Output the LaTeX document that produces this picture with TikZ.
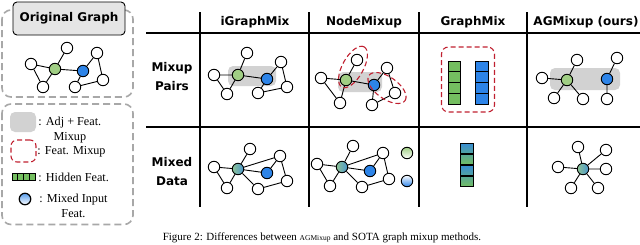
\documentclass[tikz,border=0pt]{standalone}
\usepackage{fontspec}
\setmainfont{Liberation Serif}
\newfontfamily\comicfont{DejaVu Sans}
\usetikzlibrary{positioning, shapes.geometric, calc}
\definecolor{nodegreen}{RGB}{160,206,132}
\definecolor{nodeblue}{RGB}{45,132,232}
\definecolor{cellgreen}{RGB}{116,190,96}
\definecolor{keyred}{RGB}{192,32,48}
\definecolor{pairgray}{RGB}{210,210,210}
\definecolor{boxgray}{RGB}{168,168,168}

\tikzset{
  headfont/.style={font=\comicfont\bfseries\fontsize{12}{19}\selectfont},
  keyfont/.style={font=\fontsize{12.2}{15.5}\selectfont},
}

\begin{document}
\begin{tikzpicture}[x=1pt, y=-1pt, line width=0.9pt,
    vtx/.style={circle, draw, fill=white, minimum size=11.5pt, inner sep=0pt},
    gvtx/.style={vtx, fill=nodegreen},
    bvtx/.style={vtx, fill=nodeblue},
    mvtx/.style={vtx, left color=nodegreen!85!nodeblue, right color=nodeblue!75!nodegreen},
    pairbg/.style={rectangle, rounded corners=5pt, fill=pairgray, draw=none, inner sep=0pt},
    featbox/.style={draw=keyred, dashed, dash pattern=on 5pt off 3pt, line width=1.1pt, inner sep=0pt},
    dashbox/.style={draw=boxgray, dash pattern=on 7pt off 4pt, line width=1.6pt, rounded corners=9pt},
    gcell/.style={rectangle, draw, fill=cellgreen, minimum width=12.5pt, minimum height=10.8pt, inner sep=0pt},
    bcell/.style={gcell, fill=nodeblue},
    mcellA/.style={gcell, top color=nodeblue!85!cellgreen, bottom color=nodeblue!45!cellgreen},
    mcellB/.style={gcell, top color=nodeblue!40!cellgreen, bottom color=cellgreen},
    tline/.style={line width=1.3pt}]
  \useasboundingbox (0,0) rectangle (640,244);

  % Original graph panel
  \draw[dashbox] (2,10) rectangle (133,97);
  \node[draw, fill=gray!20, rounded corners=4pt, minimum width=112pt, minimum height=33pt, headfont] (title) at (69,18.5) {Original Graph};
  \node[vtx] (og-l) at (31,64) {}; \node[gvtx] (og-g) at (55,69) {}; \node[vtx] (og-t) at (67,48) {};
  \node[vtx] (og-bl) at (43,87) {}; \node[bvtx] (og-b) at (83,71) {}; \node[vtx] (og-tr) at (97,53) {};
  \node[vtx] (og-r) at (103,80) {}; \node[vtx] (og-bb) at (75,87) {};
  \draw (og-l)--(og-g) (og-l)--(og-bl) (og-bl)--(og-g) (og-g)--(og-t) (og-g)--(og-b)
        (og-b)--(og-tr) (og-tr)--(og-r) (og-r)--(og-bb) (og-bb)--(og-b);

  % Legend panel
  \draw[dashbox] (2,104) rectangle (133,224.5);
  \node[pairbg, minimum width=26pt, minimum height=20pt] (lg-adj) at (23,122) {};
  \node[keyfont, align=center, anchor=west, inner sep=0pt] (lg-adj-t) at (38,130) {: Adj + Feat.\\Mixup};
  \node[featbox, rectangle, rounded corners=6pt, minimum width=25pt, minimum height=22pt] (lg-feat) at (23.5,151) {};
  \node[keyfont, anchor=west, inner sep=0pt] (lg-feat-t) at (37,152) {: Feat. Mixup};
  \foreach \i in {0,...,3}
    \node[gcell, minimum width=5.8pt, minimum height=6.5pt, line width=0.7pt] (lg-h\i) at (14.9+\i*5.8,177) {};
  \node[keyfont, anchor=west, inner sep=0pt] (lg-hid-t) at (38,177) {: Hidden Feat.};
  \node[vtx, line width=1.2pt, top color=nodeblue!80, bottom color=white] (lg-mix) at (25,199) {};
  \node[keyfont, align=center, anchor=west, inner sep=0pt] (lg-mix-t) at (39,206) {: Mixed Input\\Feat.};

  % Table frame
  \draw[tline] (146,33) -- (640,33);
  \draw[tline] (146,127) -- (640,127);
  \foreach \x in {200,309,419,527}
    \draw[tline] (\x,12) -- (\x,207);
  \node[headfont] (h-ig) at (255,22) {iGraphMix};
  \node[headfont] (h-nm) at (364,22) {NodeMixup};
  \node[headfont] (h-gm) at (473,22) {GraphMix};
  \node[headfont] (h-ag) at (586,22) {AGMixup (ours)};
  \node[headfont, align=center] (r-pair) at (172,77) {Mixup\\Pairs};
  \node[headfont, align=center] (r-data) at (172,172) {Mixed\\Data};

  % iGraphMix
  \node[pairbg, minimum width=48pt, minimum height=20pt] (ip-bg) at (252,76) {};
  \node[vtx] (ip-l) at (214,75) {}; \node[gvtx] (ip-g) at (238,75) {}; \node[vtx] (ip-t) at (247,53) {};
  \node[vtx] (ip-bl) at (227,94) {}; \node[bvtx] (ip-b) at (267,79) {}; \node[vtx] (ip-tr) at (281,62) {};
  \node[vtx] (ip-r) at (287,87) {}; \node[vtx] (ip-bb) at (258,93) {};
  \draw (ip-l)--(ip-g) (ip-l)--(ip-bl) (ip-bl)--(ip-g) (ip-g)--(ip-t) (ip-g)--(ip-b)
        (ip-b)--(ip-tr) (ip-tr)--(ip-r) (ip-r)--(ip-bb) (ip-bb)--(ip-b);
  \node[vtx] (id-l) at (214,167) {}; \node[mvtx] (id-m) at (238,169) {}; \node[vtx] (id-t) at (250,149) {};
  \node[vtx] (id-bl) at (227,188) {}; \node[bvtx] (id-b) at (267,173) {}; \node[vtx] (id-tr) at (280,156) {};
  \node[vtx] (id-r) at (287,181) {}; \node[vtx] (id-bm) at (258,189) {};
  \draw (id-l)--(id-m) (id-l)--(id-bl) (id-bl)--(id-m) (id-m)--(id-t) (id-m)--(id-tr) (id-m)--(id-b)
        (id-m)--(id-bm) (id-b)--(id-tr) (id-tr)--(id-r) (id-r)--(id-bm);

  % NodeMixup
  \node[pairbg, minimum width=44pt, minimum height=20pt] (np-bg) at (360,82) {};
  \node[vtx] (np-l) at (321,78) {}; \node[gvtx] (np-g) at (346,80) {}; \node[vtx] (np-t) at (357,60) {};
  \node[vtx] (np-bl) at (340,103) {}; \node[bvtx] (np-b) at (374,85) {}; \node[vtx] (np-tr) at (387,68) {};
  \node[vtx] (np-r) at (395,93) {}; \node[vtx] (np-bb) at (372,105) {};
  \draw (np-l)--(np-g) (np-l)--(np-bl) (np-bl)--(np-g) (np-g)--(np-t) (np-g)--(np-b)
        (np-b)--(np-tr) (np-tr)--(np-r) (np-r)--(np-bb) (np-bb)--(np-b);
  \node[featbox, ellipse, minimum width=46pt, minimum height=21pt, rotate=61] (np-e1) at (353,67) {};
  \node[featbox, ellipse, minimum width=44pt, minimum height=22pt, rotate=-35] (np-e2) at (387,88) {};
  \node[vtx] (nd-l) at (317,164) {}; \node[mvtx] (nd-m) at (342,167) {}; \node[vtx] (nd-t) at (353,146) {};
  \node[vtx] (nd-bl) at (330,186) {}; \node[bvtx] (nd-b) at (370,171) {}; \node[vtx] (nd-tr) at (383,153) {};
  \node[vtx] (nd-r) at (389,179) {}; \node[vtx] (nd-bm) at (362,187) {};
  \draw (nd-l)--(nd-m) (nd-l)--(nd-bl) (nd-bl)--(nd-m) (nd-m)--(nd-t) (nd-m)--(nd-tr) (nd-m)--(nd-b)
        (nd-m)--(nd-bm) (nd-b)--(nd-tr) (nd-tr)--(nd-r) (nd-r)--(nd-bm);
  \node[vtx, top color=nodegreen, bottom color=white] (nd-gx) at (407,153) {};
  \node[vtx, top color=white, bottom color=nodeblue] (nd-bx) at (407,181) {};

  % GraphMix
  \node[featbox, rectangle, rounded corners=7pt, minimum width=53pt, minimum height=65pt] (gp-box) at (468,79.5) {};
  \foreach \i in {0,...,3} {
    \node[gcell] (gp-g\i) at (454.5,66.5+\i*10.8) {};
    \node[bcell] (gp-b\i) at (482,66.5+\i*10.8) {};
  }
  \foreach \i/\c in {0/mcellA,1/mcellB,2/mcellA,3/mcellB}
    \node[\c] (gd-\i) at (467,148.5+\i*11) {};

  % AGMixup
  \node[pairbg, minimum width=70pt, minimum height=22pt] (ap-bg) at (585,79) {};
  \node[vtx] (ap-l) at (542,78) {}; \node[gvtx] (ap-g) at (567,80) {}; \node[vtx] (ap-tr) at (577,60) {};
  \node[vtx] (ap-bl) at (554,98) {}; \node[vtx] (ap-br) at (583,99) {};
  \node[bvtx] (ap-b) at (607,79) {}; \node[vtx] (ap-t) at (617,58) {}; \node[vtx] (ap-bb) at (607,99) {};
  \draw (ap-l)--(ap-g) (ap-g)--(ap-tr) (ap-g)--(ap-bl) (ap-g)--(ap-br) (ap-b)--(ap-t) (ap-b)--(ap-bb);
  \node[mvtx] (ad-m) at (583,169) {};
  \node[vtx] (ad-t) at (578,147) {}; \node[vtx] (ad-tr) at (606,150) {}; \node[vtx] (ad-r) at (606,169) {};
  \node[vtx] (ad-br) at (598,188) {}; \node[vtx] (ad-bl) at (571,188) {}; \node[vtx] (ad-l) at (558,167) {};
  \draw (ad-m)--(ad-t) (ad-m)--(ad-tr) (ad-m)--(ad-r) (ad-m)--(ad-br) (ad-m)--(ad-bl) (ad-m)--(ad-l);

  % Caption
  \node[anchor=base, font=\fontsize{11}{13}\selectfont] (caption) at (322,240.5)
       {Figure 2: Differences between {\fontsize{7.5}{9}\selectfont AGMixup} and SOTA graph mixup methods.};
\end{tikzpicture}
\end{document}
